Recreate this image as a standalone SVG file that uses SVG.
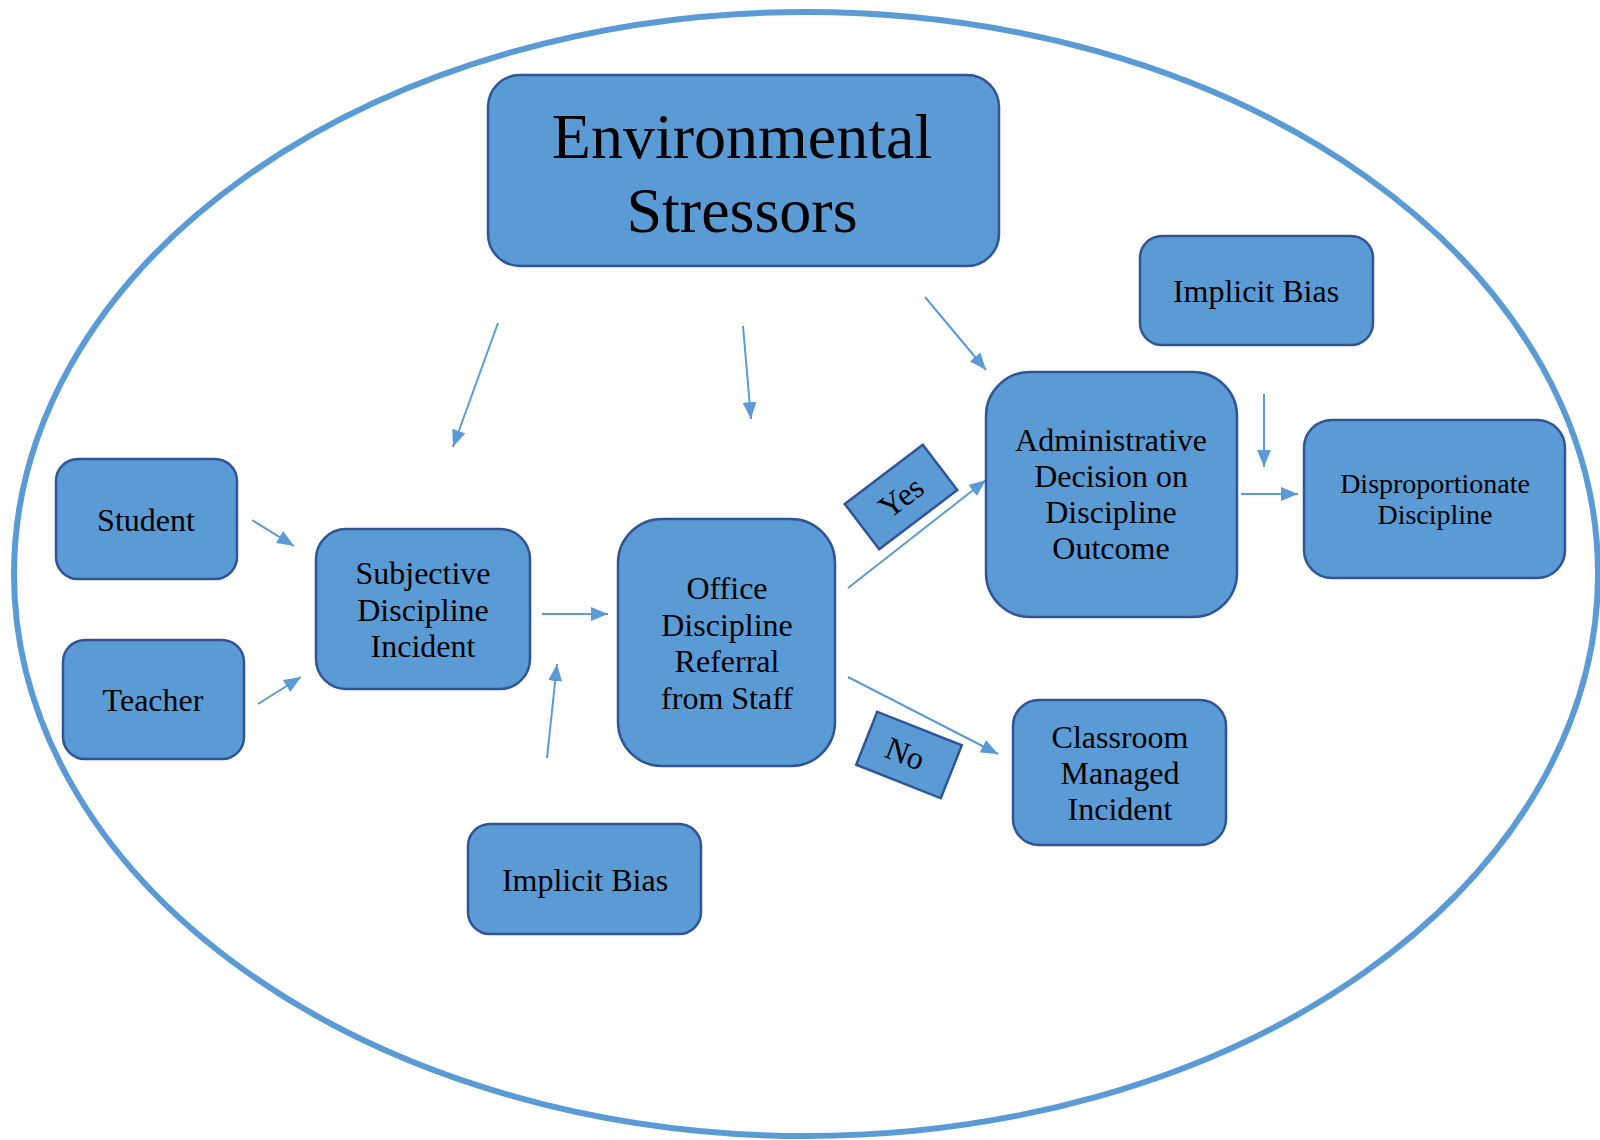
<svg xmlns="http://www.w3.org/2000/svg" width="1600" height="1140" viewBox="0 0 1600 1140">
<style>
.box{fill:#5B9BD5;stroke:#2F5597;stroke-width:2.5}
.t{font-family:"Liberation Serif","Times New Roman",serif;font-size:32px;fill:#000;text-anchor:middle}
.c{stroke:#5B9BD5;stroke-width:2;fill:none;marker-end:url(#ah)}
</style>
<defs>
<marker id="ah" markerUnits="userSpaceOnUse" markerWidth="17" markerHeight="14" refX="17" refY="7" orient="auto">
<path d="M0,0 L17,7 L0,14 z" fill="#5B9BD5"/>
</marker>
</defs>
<rect width="1600" height="1140" fill="#fff"/>
<ellipse cx="806" cy="574" rx="792" ry="562" fill="none" stroke="#5B9BD5" stroke-width="6"/>
<g id="connectors">
<line class="c" x1="498" y1="323" x2="453" y2="447"/>
<line class="c" x1="743" y1="326" x2="751" y2="419"/>
<line class="c" x1="925" y1="297" x2="986" y2="370"/>
<line class="c" x1="252" y1="520" x2="294" y2="546"/>
<line class="c" x1="258" y1="704" x2="301" y2="677"/>
<line class="c" x1="542" y1="614" x2="608" y2="614"/>
<line class="c" x1="547" y1="758" x2="557" y2="664"/>
<line class="c" x1="848" y1="588" x2="986" y2="480"/>
<line class="c" x1="848" y1="677" x2="998" y2="754"/>
<line class="c" x1="1264" y1="394" x2="1264" y2="467"/>
<line class="c" x1="1241" y1="494" x2="1298" y2="494"/>
</g>
<g id="env">
<rect class="box" x="488" y="75" width="511" height="191" rx="32"/>
<text class="t" style="font-size:64px" x="742" y="158">Environmental</text>
<text class="t" style="font-size:64px" x="742" y="232">Stressors</text>
</g>
<g id="bias-top">
<rect class="box" x="1140" y="236" width="233" height="109" rx="22"/>
<text class="t" x="1256" y="302">Implicit Bias</text>
</g>
<g id="student">
<rect class="box" x="56" y="459" width="181" height="120" rx="22"/>
<text class="t" x="146" y="531">Student</text>
</g>
<g id="teacher">
<rect class="box" x="63" y="640" width="181" height="119" rx="22"/>
<text class="t" x="153" y="711">Teacher</text>
</g>
<g id="subjective">
<rect class="box" x="316" y="529" width="214" height="160" rx="30"/>
<text class="t" x="423" y="584">Subjective</text>
<text class="t" x="423" y="621">Discipline</text>
<text class="t" x="423" y="657">Incident</text>
</g>
<g id="office">
<rect class="box" x="618" y="519" width="217" height="247" rx="44"/>
<text class="t" x="727" y="599">Office</text>
<text class="t" x="727" y="636">Discipline</text>
<text class="t" x="727" y="672">Referral</text>
<text class="t" x="727" y="709">from Staff</text>
</g>
<g id="admin">
<rect class="box" x="986" y="372" width="251" height="245" rx="44"/>
<text class="t" x="1111" y="451">Administrative</text>
<text class="t" x="1111" y="487">Decision on</text>
<text class="t" x="1111" y="523">Discipline</text>
<text class="t" x="1111" y="559">Outcome</text>
</g>
<g id="dispro">
<rect class="box" x="1304" y="420" width="261" height="158" rx="28"/>
<text class="t" style="font-size:28px" x="1435" y="493">Disproportionate</text>
<text class="t" style="font-size:28px" x="1435" y="524">Discipline</text>
</g>
<g id="classroom">
<rect class="box" x="1013" y="700" width="213" height="145" rx="26"/>
<text class="t" x="1120" y="748">Classroom</text>
<text class="t" x="1120" y="784">Managed</text>
<text class="t" x="1120" y="820">Incident</text>
</g>
<g id="bias-bottom">
<rect class="box" x="468" y="824" width="233" height="110" rx="22"/>
<text class="t" x="585" y="891">Implicit Bias</text>
</g>
<g id="yes" transform="translate(901,497) rotate(-37.2)">
<rect class="box" x="-49" y="-28.5" width="98" height="57"/>
<text class="t" x="0" y="11">Yes</text>
</g>
<g id="no" transform="translate(909,755) rotate(21.6)">
<rect class="box" x="-45.5" y="-28.5" width="91" height="57"/>
<text class="t" x="-4" y="11">No</text>
</g>
</svg>
